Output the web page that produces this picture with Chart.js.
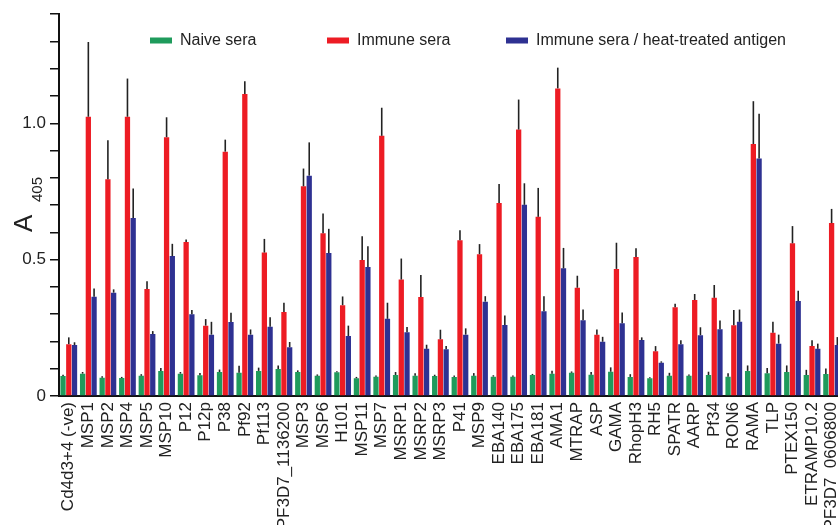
<!DOCTYPE html>
<html>
<head>
<meta charset="utf-8">
<script src="https://cdn.jsdelivr.net/npm/chart.js@4"></script>
<style>
  html, body { margin: 0; padding: 0; background: #fff; overflow: hidden; }
  #wrap { position: absolute; left: 0; top: 0; width: 858px; height: 525px; }
</style>
</head>
<body>
<div id="wrap"><canvas id="antigen-chart" width="858" height="525"></canvas></div>
<script>
// antigeni sull'asse x
const categories = ['Cd4d3+4 (-ve)', 'MSP1', 'MSP2', 'MSP4', 'MSP5', 'MSP10', 'P12', 'P12p', 'P38', 'Pf92',
  'Pf113', 'PF3D7_1136200', 'MSP3', 'MSP6', 'H101', 'MSP11', 'MSP7', 'MSRP1', 'MSRP2', 'MSRP3',
  'P41', 'MSP9', 'EBA140', 'EBA175', 'EBA181', 'AMA1', 'MTRAP', 'ASP', 'GAMA', 'RhopH3',
  'RH5', 'SPATR', 'AARP', 'Pf34', 'RON6', 'RAMA', 'TLP', 'PTEX150', 'ETRAMP10.2', 'PF3D7_0606800'];

const seriesNames = ['Naive sera', 'Immune sera', 'Immune sera / heat-treated antigen'];

// valori A405 (media) e barre d'errore
const naive = [0.073, 0.082, 0.067, 0.066, 0.074, 0.092, 0.082, 0.076, 0.088, 0.085,
  0.092, 0.099, 0.088, 0.074, 0.087, 0.065, 0.071, 0.077, 0.074, 0.073,
  0.070, 0.074, 0.071, 0.071, 0.077, 0.082, 0.085, 0.078, 0.089, 0.070,
  0.065, 0.074, 0.074, 0.077, 0.071, 0.092, 0.083, 0.088, 0.077, 0.081];
const naiveErr = [0.005, 0.006, 0.005, 0.004, 0.006, 0.011, 0.006, 0.008, 0.009, 0.026,
  0.012, 0.013, 0.006, 0.005, 0.004, 0.005, 0.004, 0.011, 0.009, 0.005,
  0.005, 0.010, 0.005, 0.004, 0.004, 0.011, 0.005, 0.010, 0.016, 0.010,
  0.004, 0.011, 0.005, 0.012, 0.012, 0.020, 0.020, 0.024, 0.019, 0.020];

const immune = [0.190, 1.024, 0.795, 1.024, 0.392, 0.949, 0.565, 0.258, 0.896, 1.107,
  0.526, 0.308, 0.769, 0.597, 0.333, 0.499, 0.954, 0.427, 0.363, 0.208,
  0.571, 0.520, 0.708, 0.977, 0.657, 1.128, 0.397, 0.225, 0.466, 0.510,
  0.164, 0.325, 0.352, 0.360, 0.259, 0.924, 0.232, 0.560, 0.183, 0.634];
const immuneErr = [0.025, 0.274, 0.143, 0.140, 0.029, 0.073, 0.009, 0.024, 0.044, 0.047,
  0.050, 0.034, 0.065, 0.072, 0.032, 0.087, 0.103, 0.077, 0.081, 0.035,
  0.037, 0.037, 0.069, 0.110, 0.106, 0.076, 0.044, 0.019, 0.096, 0.032,
  0.019, 0.013, 0.022, 0.047, 0.056, 0.157, 0.040, 0.063, 0.021, 0.052];

const heat = [0.187, 0.364, 0.379, 0.653, 0.227, 0.513, 0.300, 0.225, 0.271, 0.225,
  0.254, 0.179, 0.808, 0.524, 0.220, 0.473, 0.283, 0.234, 0.173, 0.171,
  0.225, 0.346, 0.260, 0.701, 0.311, 0.468, 0.278, 0.199, 0.267, 0.205,
  0.122, 0.190, 0.223, 0.245, 0.272, 0.871, 0.192, 0.348, 0.173, 0.187];
const heatErr = [0.010, 0.030, 0.012, 0.108, 0.011, 0.045, 0.015, 0.047, 0.034, 0.019,
  0.035, 0.019, 0.122, 0.089, 0.038, 0.076, 0.059, 0.019, 0.015, 0.012,
  0.023, 0.020, 0.035, 0.079, 0.055, 0.075, 0.039, 0.018, 0.039, 0.010,
  0.005, 0.014, 0.029, 0.032, 0.045, 0.164, 0.033, 0.038, 0.019, 0.029];

const colors = ['#1f9b5c', '#ed1c24', '#2e3192'];
const FONT = "'Liberation Sans', Arial, sans-serif";

// barre d'errore (solo verso l'alto)
const errorBars = {
  id: 'errorBars',
  afterDatasetsDraw(chart) {
    const ctx = chart.ctx;
    const y = chart.scales.y;
    ctx.save();
    ctx.strokeStyle = '#222';
    ctx.lineWidth = 1.6;
    chart.data.datasets.forEach((ds, i) => {
      const meta = chart.getDatasetMeta(i);
      meta.data.forEach((bar, j) => {
        const top = y.getPixelForValue(ds.data[j] + ds.errors[j]);
        ctx.beginPath();
        ctx.moveTo(bar.x, bar.y);
        ctx.lineTo(bar.x, top);
        ctx.stroke();
      });
    });
    ctx.restore();
  }
};

// legenda dentro l'area del grafico e titolo asse y con pedice
const extras = {
  id: 'extras',
  afterDraw(chart) {
    const ctx = chart.ctx;
    ctx.save();
    const legendX = [150, 327, 506];
    ctx.font = '16px ' + FONT;
    ctx.textBaseline = 'middle';
    seriesNames.forEach((name, i) => {
      ctx.fillStyle = colors[i];
      ctx.fillRect(legendX[i], 37.5, 22, 6);
      ctx.fillStyle = '#222';
      ctx.fillText(name, legendX[i] + 30, 41);
    });
    ctx.translate(32, 232);
    ctx.rotate(-Math.PI / 2);
    ctx.textBaseline = 'alphabetic';
    ctx.font = '26px ' + FONT;
    ctx.fillText('A', 0, 0);
    ctx.font = '15px ' + FONT;
    ctx.fillText('405', 30, 10);
    ctx.restore();
  }
};

const datasets = [naive, immune, heat].map((vals, i) => ({
  label: seriesNames[i],
  data: vals,
  errors: [naiveErr, immuneErr, heatErr][i],
  backgroundColor: colors[i],
  borderWidth: 0,
  barPercentage: 0.92,
  categoryPercentage: 0.88
}));

new Chart(document.getElementById('antigen-chart'), {
  type: 'bar',
  data: { labels: categories, datasets: datasets },
  options: {
    responsive: false,
    animation: false,
    layout: { padding: { top: 13, left: 0, right: 0, bottom: 0 } },
    plugins: { legend: { display: false }, tooltip: { enabled: false } },
    scales: {
      x: {
        grid: { display: false, drawTicks: false },
        border: { display: true, color: '#111', width: 2 },
        ticks: {
          color: '#222', font: { family: FONT, size: 17 },
          minRotation: 90, maxRotation: 90, autoSkip: false, padding: 6
        },
        afterFit(scale) { scale.height = 129; }
      },
      y: {
        min: 0, max: 1.4,
        grid: { display: true, drawOnChartArea: false, drawTicks: true, tickLength: 9, color: '#111', lineWidth: 1.5 },
        border: { display: true, color: '#111', width: 2 },
        ticks: {
          stepSize: 0.1, padding: 4, color: '#222', font: { family: FONT, size: 17 },
          callback(v) {
            const k = Math.round(v * 10);
            if (k === 0) return '0';
            if (k === 5) return '0.5';
            if (k === 10) return '1.0';
            return '';
          }
        },
        afterFit(scale) { scale.width = 59; }
      }
    }
  },
  plugins: [errorBars, extras]
});
</script>
</body>
</html>
